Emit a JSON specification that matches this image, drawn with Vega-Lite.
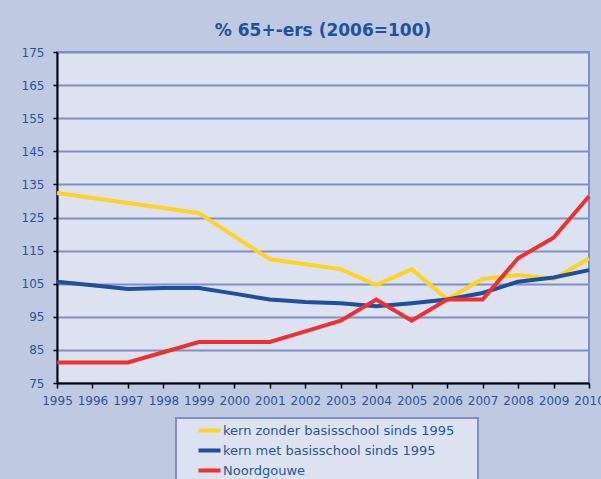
{
  "$schema": "https://vega.github.io/schema/vega-lite/v6.json",
  "width": 532,
  "height": 331,
  "autosize": {"type": "none"},
  "padding": {"left": 57, "top": 52, "right": 12, "bottom": 96},
  "background": "#BFC9E2",
  "title": {
    "text": "% 65+-ers (2006=100)",
    "font": "DejaVu Sans",
    "fontSize": 17,
    "fontWeight": "bold",
    "color": "#22509A",
    "anchor": "middle",
    "offset": 6
  },
  "config": {
    "view": {"fill": "#DCE2F0", "stroke": "#7F8FC6", "strokeWidth": 2},
    "font": "DejaVu Sans"
  },
  "data": {
    "values": [
      {"year": 1995, "series": "kern zonder basisschool sinds 1995", "value": 132.4},
      {"year": 1996, "series": "kern zonder basisschool sinds 1995", "value": 130.9},
      {"year": 1997, "series": "kern zonder basisschool sinds 1995", "value": 129.4},
      {"year": 1998, "series": "kern zonder basisschool sinds 1995", "value": 127.9},
      {"year": 1999, "series": "kern zonder basisschool sinds 1995", "value": 126.3},
      {"year": 2000, "series": "kern zonder basisschool sinds 1995", "value": 119.3},
      {"year": 2001, "series": "kern zonder basisschool sinds 1995", "value": 112.4},
      {"year": 2002, "series": "kern zonder basisschool sinds 1995", "value": 110.9},
      {"year": 2003, "series": "kern zonder basisschool sinds 1995", "value": 109.4},
      {"year": 2004, "series": "kern zonder basisschool sinds 1995", "value": 104.6},
      {"year": 2005, "series": "kern zonder basisschool sinds 1995", "value": 109.4},
      {"year": 2006, "series": "kern zonder basisschool sinds 1995", "value": 100.3},
      {"year": 2007, "series": "kern zonder basisschool sinds 1995", "value": 106.4},
      {"year": 2008, "series": "kern zonder basisschool sinds 1995", "value": 107.6},
      {"year": 2009, "series": "kern zonder basisschool sinds 1995", "value": 106.4},
      {"year": 2010, "series": "kern zonder basisschool sinds 1995", "value": 112.6},
      {"year": 1995, "series": "kern met basisschool sinds 1995", "value": 105.6},
      {"year": 1996, "series": "kern met basisschool sinds 1995", "value": 104.5},
      {"year": 1997, "series": "kern met basisschool sinds 1995", "value": 103.4},
      {"year": 1998, "series": "kern met basisschool sinds 1995", "value": 103.7},
      {"year": 1999, "series": "kern met basisschool sinds 1995", "value": 103.7},
      {"year": 2000, "series": "kern met basisschool sinds 1995", "value": 102.0},
      {"year": 2001, "series": "kern met basisschool sinds 1995", "value": 100.2},
      {"year": 2002, "series": "kern met basisschool sinds 1995", "value": 99.5},
      {"year": 2003, "series": "kern met basisschool sinds 1995", "value": 99.1},
      {"year": 2004, "series": "kern met basisschool sinds 1995", "value": 98.2},
      {"year": 2005, "series": "kern met basisschool sinds 1995", "value": 99.1},
      {"year": 2006, "series": "kern met basisschool sinds 1995", "value": 100.2},
      {"year": 2007, "series": "kern met basisschool sinds 1995", "value": 102.2},
      {"year": 2008, "series": "kern met basisschool sinds 1995", "value": 105.6},
      {"year": 2009, "series": "kern met basisschool sinds 1995", "value": 106.9},
      {"year": 2010, "series": "kern met basisschool sinds 1995", "value": 109.1},
      {"year": 1995, "series": "Noordgouwe", "value": 81.2},
      {"year": 1996, "series": "Noordgouwe", "value": 81.2},
      {"year": 1997, "series": "Noordgouwe", "value": 81.2},
      {"year": 1998, "series": "Noordgouwe", "value": 84.3},
      {"year": 1999, "series": "Noordgouwe", "value": 87.4},
      {"year": 2000, "series": "Noordgouwe", "value": 87.4},
      {"year": 2001, "series": "Noordgouwe", "value": 87.4},
      {"year": 2002, "series": "Noordgouwe", "value": 90.6},
      {"year": 2003, "series": "Noordgouwe", "value": 93.8},
      {"year": 2004, "series": "Noordgouwe", "value": 100.2},
      {"year": 2005, "series": "Noordgouwe", "value": 93.8},
      {"year": 2006, "series": "Noordgouwe", "value": 100.2},
      {"year": 2007, "series": "Noordgouwe", "value": 100.2},
      {"year": 2008, "series": "Noordgouwe", "value": 112.7},
      {"year": 2009, "series": "Noordgouwe", "value": 118.9},
      {"year": 2010, "series": "Noordgouwe", "value": 131.4}
    ]
  },
  "mark": {"type": "line", "strokeWidth": 4, "strokeJoin": "miter"},
  "encoding": {
    "x": {
      "field": "year",
      "type": "quantitative",
      "scale": {"domain": [1995, 2010], "nice": false, "zero": false},
      "axis": {
        "title": null,
        "values": [1995,1996,1997,1998,1999,2000,2001,2002,2003,2004,2005,2006,2007,2008,2009,2010],
        "format": "d",
        "grid": false,
        "domainColor": "#000000",
        "domainWidth": 2,
        "tickColor": "#000000",
        "tickWidth": 1.5,
        "tickSize": 5,
        "labelFontSize": 12,
        "labelColor": "#2A559C",
        "labelPadding": 7,
        "labelFlush": false,
        "labelOverlap": false
      }
    },
    "y": {
      "field": "value",
      "type": "quantitative",
      "scale": {"domain": [75, 175], "nice": false, "zero": false},
      "axis": {
        "title": null,
        "values": [75,85,95,105,115,125,135,145,155,165,175],
        "grid": true,
        "gridColor": "#7F8FC6",
        "gridWidth": 2,
        "gridOpacity": 1,
        "domainColor": "#000000",
        "domainWidth": 2,
        "tickColor": "#000000",
        "tickWidth": 1.5,
        "tickSize": 4,
        "labelFontSize": 12,
        "labelColor": "#2A559C",
        "labelPadding": 9
      }
    },
    "color": {
      "field": "series",
      "type": "nominal",
      "sort": ["kern zonder basisschool sinds 1995", "kern met basisschool sinds 1995", "Noordgouwe"],
      "scale": {
        "domain": ["kern zonder basisschool sinds 1995", "kern met basisschool sinds 1995", "Noordgouwe"],
        "range": ["#FFD324", "#1F4E9C", "#EE3130"]
      },
      "legend": {
        "title": " ",
        "titleOrient": "right",
        "titlePadding": 23,
        "titleFontSize": 12,
        "orient": "none",
        "legendX": 119,
        "legendY": 366,
        "direction": "vertical",
        "fillColor": "#DCE2F0",
        "strokeColor": "#7F8FC6",
        "padding": 1,
        "symbolType": "M-1.16,0H1.16",
        "symbolSize": 361,
        "symbolStrokeWidth": 4,
        "symbolOffset": 21,
        "labelOffset": 2,
        "labelFontSize": 13,
        "labelColor": "#2A559C",
        "labelLimit": 400,
        "rowPadding": -2,
        "encode": {"legend": {"update": {"strokeWidth": {"value": 2}}}}
      }
    }
  }
}
